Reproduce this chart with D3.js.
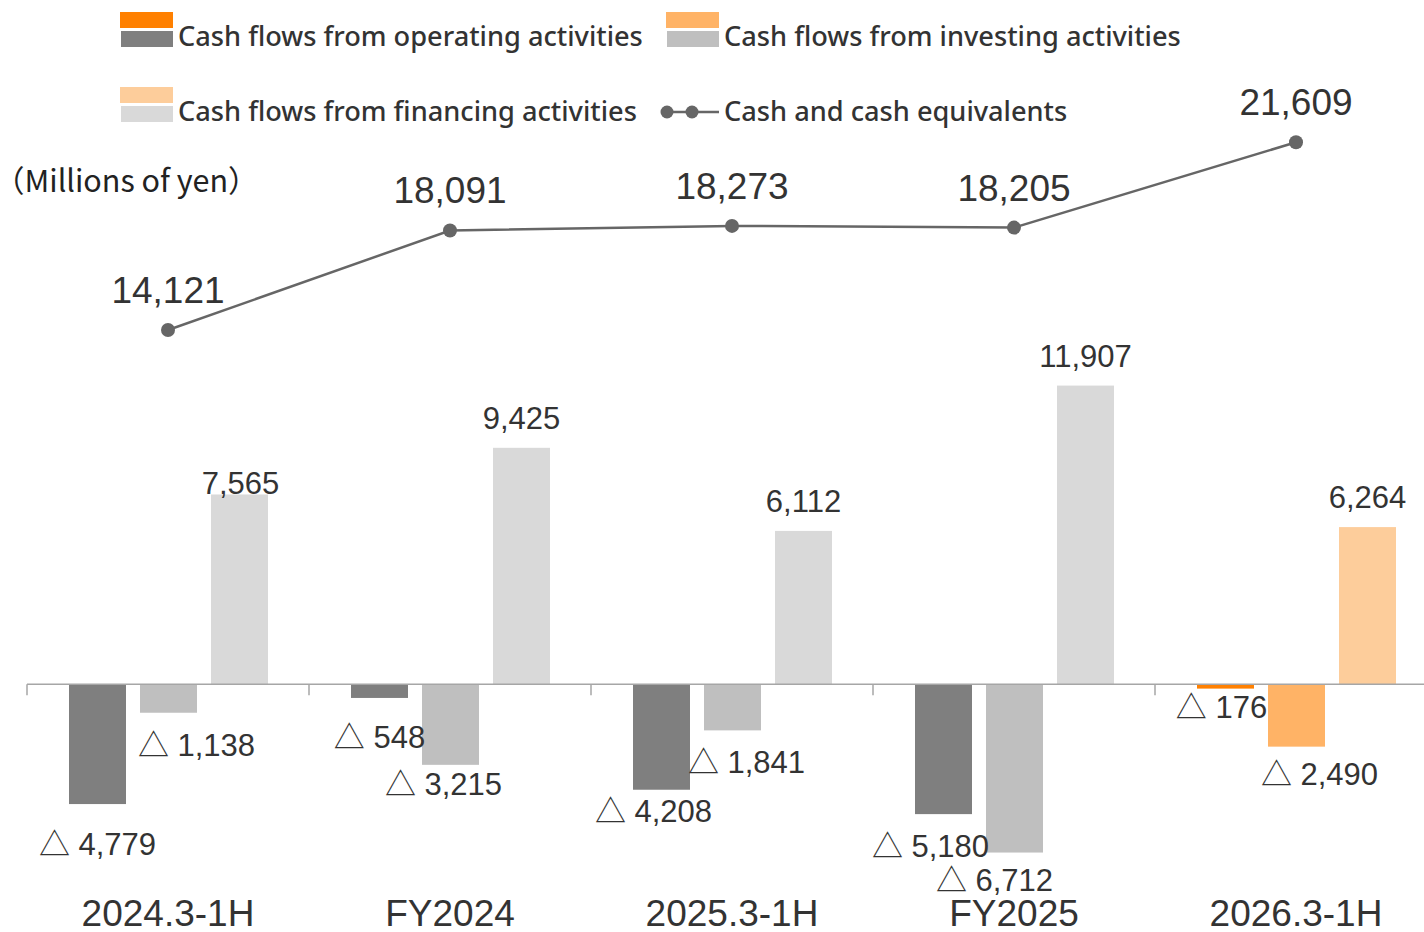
<!DOCTYPE html>
<html>
<head>
<meta charset="utf-8">
<script src="https://cdn.jsdelivr.net/npm/d3@7"></script>
<style>
  body { margin: 0; background: #fff; }
  svg text { font-family: "Liberation Sans", Arial, "Noto Sans CJK JP", sans-serif; }
</style>
</head>
<body>
<div id="chart"></div>
<script>
// periods on the x axis
var periods = ["2024.3-1H", "FY2024", "2025.3-1H", "FY2025", "2026.3-1H"];

// cash flows (millions of yen)
var operating = [-4779, -548, -4208, -5180, -176];
var investing = [-1138, -3215, -1841, -6712, -2490];
var financing = [7565, 9425, 6112, 11907, 6264];
var cashBalance = [14121, 18091, 18273, 18205, 21609];

var seriesNames = ["Cash flows from operating activities", "Cash flows from investing activities", "Cash flows from financing activities"];
var lineName = "Cash and cash equivalents";

var width = 1424, height = 932;

// gray for past periods, orange for the latest one
var grayColors = ["#7f7f7f", "#bfbfbf", "#d9d9d9"];
var orangeColors = ["#ff8000", "#ffb366", "#fdcd9b"];
var lineColor = "#666666";
var textColor = "#333333";

// hand-moved data labels in the original, [dx, dy] by series then period
var labelNudge = [
    [[0, 10], [0, 9], [-8, -9], [-13, 2], [-4, -12]],
    [[28, 2], [-7, -11], [14, 1], [-20, -3], [23, -3]],
    [[1, 18], [0, 0], [0, 0], [0, 0], [0, 0]]
];

var svg = d3.select("#chart")
    .append("svg")
    .attr("width", width)
    .attr("height", height);

var x = d3.scaleBand()
    .domain(periods)
    .range([27, 1437])
    .padding(0);

var xInner = d3.scaleBand()
    .domain([0, 1, 2])
    .range([42, 241])
    .paddingInner(14 / 71)
    .paddingOuter(0);

var y = d3.scaleLinear()
    .domain([-10000, 25000])
    .range([935, 57.2]);

var fmt = d3.format(",");
function label(v) {
    return v < 0 ? "△ " + fmt(-v) : fmt(v);
}

// build table of bars
var bars = [];
periods.forEach(function(p, i) {
    [operating, investing, financing].forEach(function(arr, s) {
        bars.push({ period: p, idx: i, s: s, value: arr[i] });
    });
});

var last = periods.length - 1;

svg.append("g").selectAll("rect")
    .data(bars)
    .enter()
    .append("rect")
    .attr("x", function(d) { return x(d.period) + xInner(d.s); })
    .attr("width", xInner.bandwidth())
    .attr("y", function(d) { return y(Math.max(0, d.value)); })
    .attr("height", function(d) { return Math.abs(y(d.value) - y(0)); })
    .style("fill", function(d) { return d.idx === last ? orangeColors[d.s] : grayColors[d.s]; });

// bar value labels
svg.append("g").selectAll("text")
    .data(bars)
    .enter()
    .append("text")
    .attr("x", function(d) { return x(d.period) + xInner(d.s) + xInner.bandwidth() / 2 + labelNudge[d.s][d.idx][0]; })
    .attr("y", function(d) {
        var c = d.value >= 0 ? y(d.value) - 30 : y(d.value) + 30;
        return c + labelNudge[d.s][d.idx][1];
    })
    .attr("dy", "0.36em")
    .attr("text-anchor", "middle")
    .style("font-size", "31px")
    .style("fill", textColor)
    .text(function(d) { return label(d.value); });

// x axis
var axis = svg.append("g").attr("transform", "translate(0," + y(0) + ")");
axis.append("line")
    .attr("x1", 27).attr("x2", width)
    .attr("y1", 0).attr("y2", 0)
    .style("stroke", "#a6a6a6")
    .style("stroke-width", 1.5);
axis.selectAll("line.tick")
    .data(periods)
    .enter()
    .append("line")
    .attr("class", "tick")
    .attr("x1", function(d) { return x(d); })
    .attr("x2", function(d) { return x(d); })
    .attr("y1", 0).attr("y2", 11)
    .style("stroke", "#a6a6a6")
    .style("stroke-width", 1.5);

svg.append("g").selectAll("text")
    .data(periods)
    .enter()
    .append("text")
    .attr("x", function(d) { return x(d) + x.bandwidth() / 2; })
    .attr("y", 926)
    .attr("text-anchor", "middle")
    .style("font-size", "37px")
    .style("fill", textColor)
    .text(function(d) { return d; });

// cash balance line
var line = d3.line()
    .x(function(d, i) { return x(periods[i]) + x.bandwidth() / 2; })
    .y(function(d) { return y(d); });

svg.append("path")
    .datum(cashBalance)
    .attr("d", line)
    .style("fill", "none")
    .style("stroke", lineColor)
    .style("stroke-width", 2.5);

svg.append("g").selectAll("circle")
    .data(cashBalance)
    .enter()
    .append("circle")
    .attr("cx", function(d, i) { return x(periods[i]) + x.bandwidth() / 2; })
    .attr("cy", function(d) { return y(d); })
    .attr("r", 7)
    .style("fill", lineColor);

svg.append("g").selectAll("text")
    .data(cashBalance)
    .enter()
    .append("text")
    .attr("x", function(d, i) { return x(periods[i]) + x.bandwidth() / 2; })
    .attr("y", function(d) { return y(d) - 27; })
    .attr("text-anchor", "middle")
    .style("font-size", "37px")
    .style("fill", textColor)
    .text(function(d) { return fmt(d); });

// unit label
svg.append("text")
    .attr("x", -6)
    .attr("y", 192)
    .style("font-size", "30.5px")
    .style("font-family", "'Noto Sans CJK JP', sans-serif")
    .style("fill", "#222")
    .text("（Millions of yen）");

// legend
var legendPos = [[120, 12], [666, 12], [120, 87]];
var legend = svg.append("g");
seriesNames.forEach(function(name, s) {
    var g = legend.append("g").attr("transform", "translate(" + legendPos[s][0] + "," + legendPos[s][1] + ")");
    g.append("rect").attr("x", 0).attr("y", 0).attr("width", 53).attr("height", 16).style("fill", orangeColors[s]);
    g.append("rect").attr("x", 1).attr("y", 19).attr("width", 52).attr("height", 16).style("fill", grayColors[s]);
    g.append("text")
        .attr("x", 58).attr("y", 34)
        .style("font-size", "27.2px")
        .style("font-family", "'Noto Sans', sans-serif")
        .style("font-weight", 500)
        .style("fill", textColor)
        .text(name);
});
var lg = legend.append("g").attr("transform", "translate(666,112)");
lg.append("line").attr("x1", 0).attr("x2", 53).attr("y1", 0).attr("y2", 0)
    .style("stroke", lineColor).style("stroke-width", 2.5);
lg.append("circle").attr("cx", 1).attr("cy", 0).attr("r", 6.5).style("fill", lineColor);
lg.append("circle").attr("cx", 26).attr("cy", 0).attr("r", 6.5).style("fill", lineColor);
lg.append("text")
    .attr("x", 58).attr("y", 9)
    .style("font-size", "27.2px")
    .style("font-family", "'Noto Sans', sans-serif")
    .style("font-weight", 500)
    .style("fill", textColor)
    .text(lineName);
</script>
</body>
</html>
